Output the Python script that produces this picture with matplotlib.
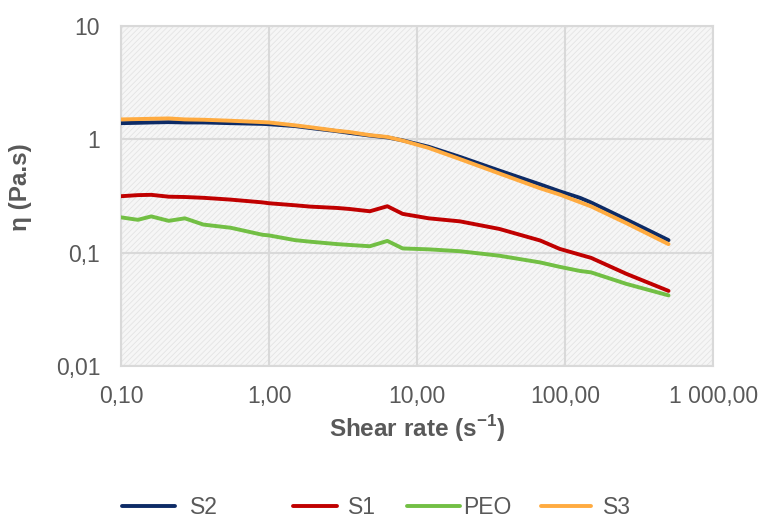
import matplotlib.pyplot as plt
import matplotlib.patches as mpatches
from matplotlib.lines import Line2D
from matplotlib.ticker import FixedLocator, FixedFormatter, NullLocator

plt.rcParams['font.family'] = ['Liberation Sans', 'DejaVu Sans']
plt.rcParams['mathtext.fontset'] = 'custom'
plt.rcParams['mathtext.rm'] = 'Liberation Sans'
plt.rcParams['mathtext.bf'] = 'Liberation Sans:bold'
plt.rcParams['hatch.linewidth'] = 0.6

# shear rate grid (s-1)
shear = [0.10, 0.13, 0.16, 0.21, 0.27, 0.36, 0.55, 0.90, 1.0, 1.5, 1.9, 2.9, 3.5,
         4.8, 6.3, 8.0, 12, 19.5, 36, 68, 92, 126, 150, 260, 500]
s2 = [1.39, 1.40, 1.41, 1.42, 1.41, 1.41, 1.39, 1.37, 1.36, 1.31, 1.26, 1.18, 1.14,
      1.08, 1.04, 0.98, 0.86, 0.70, 0.53, 0.40, 0.348, 0.305, 0.277, 0.196, 0.129]
s1 = [0.315, 0.322, 0.324, 0.312, 0.310, 0.305, 0.294, 0.278, 0.273, 0.262, 0.255, 0.248, 0.243,
      0.232, 0.257, 0.220, 0.201, 0.189, 0.162, 0.128, 0.108, 0.096, 0.090, 0.065, 0.046]
peo = [0.205, 0.195, 0.209, 0.191, 0.201, 0.177, 0.166, 0.144, 0.142, 0.129, 0.125, 0.119, 0.117,
       0.114, 0.127, 0.109, 0.107, 0.103, 0.094, 0.082, 0.075, 0.069, 0.067, 0.053, 0.042]
s3 = [1.50, 1.51, 1.52, 1.53, 1.50, 1.49, 1.46, 1.42, 1.41, 1.33, 1.28, 1.19, 1.16,
      1.09, 1.05, 0.975, 0.84, 0.67, 0.50, 0.37, 0.326, 0.279, 0.256, 0.182, 0.119]

names = ['S2', 'S1', 'PEO', 'S3']
colors = ['#0d2b66', '#c00000', '#72bf44', '#ffab40']

xticks = [0.1, 1, 10, 100, 1000]
xticklabels = ['0,10', '1,00', '10,00', '100,00', '1 000,00']
yticks = [0.01, 0.1, 1, 10]
yticklabels = ['0,01', '0,1', '1', '10']

grey_txt = '#595959'
grid_c = '#d9d9d9'

fig = plt.figure(figsize=(7.62, 5.19), dpi=100)
ax = fig.add_axes([0.1588, 0.2948, 0.777, 0.655])
ax.set_xscale('log')
ax.set_yscale('log')
ax.set_xlim(0.1, 1000)
ax.set_ylim(0.01, 10)

# patterned plot area
ax.set_facecolor('#f6f6f6')
bg = mpatches.Rectangle((0, 0), 1, 1, transform=ax.transAxes, facecolor='none',
                        edgecolor='#e4e4e4', hatch='//////', linewidth=0, zorder=0)
ax.add_patch(bg)

for vals, name, c, z in zip([s2, s1, peo, s3], names, colors, [3, 3, 3, 4]):
    ax.plot(shear, vals, color=c, lw=2.8, label=name, zorder=z, solid_capstyle='round')

ax.xaxis.set_major_locator(FixedLocator(xticks))
ax.xaxis.set_major_formatter(FixedFormatter(xticklabels))
ax.yaxis.set_major_locator(FixedLocator(yticks))
ax.yaxis.set_major_formatter(FixedFormatter(yticklabels))
ax.xaxis.set_minor_locator(NullLocator())
ax.yaxis.set_minor_locator(NullLocator())
ax.tick_params(axis='both', length=0, labelsize=16.5, labelcolor=grey_txt)
ax.tick_params(axis='x', pad=14)
ax.tick_params(axis='y', pad=15)
ax.grid(True, color=grid_c, lw=1.5, zorder=1)
ax.set_axisbelow(True)
for s in ax.spines.values():
    s.set_color(grid_c)
    s.set_linewidth(1.5)

ax.set_xlabel(r'Shear rate (s$^{\mathbf{-1}}$)', fontsize=17.5, fontweight='bold', color=grey_txt)
ax.xaxis.set_label_coords(0.5, -0.14)
ax.set_ylabel('η (Pa.s)', fontsize=17.5, fontweight='bold', color=grey_txt)
ax.yaxis.set_label_coords(-0.15, 0.525)

# legend entries placed one by one, spaced like the original
leg_x = [0.160, 0.3845, 0.534, 0.710]
leg_len = [2.3, 1.9, 2.3, 2.2]
leg_pad = [0.65, 0.5, 0.15, 0.5]
for name, c, lx, hl, hp in zip(names, colors, leg_x, leg_len, leg_pad):
    h = Line2D([], [], color=c, lw=2.8, solid_capstyle='round')
    lg = fig.legend([h], [name], loc='center left', bbox_to_anchor=(lx, 0.023), frameon=False,
                    fontsize=16.5, handlelength=hl, handletextpad=hp, borderpad=0, borderaxespad=0)
    for t in lg.get_texts():
        t.set_color(grey_txt)

fig.savefig('out.png', dpi=100)
